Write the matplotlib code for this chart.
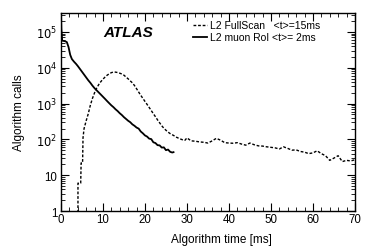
import numpy as np
import matplotlib
matplotlib.use("Agg")
import matplotlib.pyplot as plt
from matplotlib.ticker import MultipleLocator, LogLocator, FuncFormatter, NullFormatter

plt.rcParams['font.family'] = ['Liberation Sans', 'DejaVu Sans']

# L2 muon RoI: time [ms] and calls
muon_t = [0.0, 0.1, 0.3, 1.0, 1.4, 1.8, 2.2, 2.6, 3.1, 3.6, 4.0,
          4.5, 5.0, 5.5, 6.0, 6.5, 7.0, 7.5, 8.0, 8.5, 9.0,
          9.5, 10.0, 10.5, 11.0, 11.5, 12.0, 12.5, 13.0, 13.5, 14.0,
          14.5, 15.0, 15.5, 16.0, 16.5, 17.0, 17.5, 18.0, 18.5, 19.0,
          19.5, 20.0, 20.5, 21.0, 21.5, 22.0, 22.5, 23.0, 23.5, 24.0,
          24.5, 25.0, 25.5, 26.0, 26.5, 26.8]
muon_calls = [340000, 120000, 57000, 55000, 52000, 38000, 23000, 17500, 14800, 12800, 11200,
              9330, 7760, 6460, 5370, 4470, 3800, 3160, 2690, 2340, 2040,
              1780, 1550, 1350, 1170, 1020, 891, 794, 692, 617, 537,
              479, 417, 372, 331, 302, 263, 240, 214, 200, 166,
              148, 129, 120, 105, 102, 83, 79, 69, 68, 59,
              60, 50, 52, 45, 43, 44]

# L2 FullScan: time [ms] and calls
fs_t = [4.05, 4.05, 4.7, 4.8, 5.15, 5.25, 5.5, 6.0, 6.5, 7.0, 7.5, 8.0, 8.5, 9.0,
        9.5, 10.0, 10.5, 11.0, 11.5, 12.0, 12.5, 13.0, 13.5, 14.0,
        14.5, 15.0, 15.5, 16.0, 16.5, 17.0, 17.5, 18.0, 18.5, 19.0,
        19.5, 20.0, 20.5, 21.0, 21.5, 22.0, 22.5, 23.0, 23.5, 24.0,
        24.5, 25.0, 25.5, 26.0, 26.5, 27.0, 27.5, 28.0, 28.5, 29.0,
        29.5, 30.0, 31.0, 32.0, 33.0, 34.0, 35.0, 36.0, 37.0, 38.0,
        39.0, 40.0, 41.0, 42.0, 43.0, 44.0, 45.0, 46.0, 47.0, 48.0,
        49.0, 50.0, 51.0, 52.0, 53.0, 54.0, 55.0, 56.0, 57.0, 58.0,
        59.0, 60.0, 61.0, 62.0, 63.0, 64.0, 65.0, 66.0, 67.0, 68.0,
        69.0, 70.0]
fs_calls = [0.5, 6, 6, 22, 22, 110, 200, 330, 520, 900, 1400, 2000, 2700, 3400,
            4100, 4800, 5500, 6200, 6800, 7300, 7600, 7550, 7350, 7050,
            6700, 6200, 5500, 4900, 4300, 3800, 3200, 2600, 2100, 1700,
            1400, 1150, 950, 780, 640, 520, 430, 350, 290, 240,
            205, 180, 160, 145, 135, 125, 115, 108, 102, 97,
            94, 110, 91, 89, 85, 83, 79, 91, 107, 95,
            81, 79, 78, 81, 74, 69, 79, 71, 66, 65,
            62, 60, 58, 54, 62, 56, 50, 51, 46, 44,
            40, 42, 48, 40, 35, 26, 30, 35, 24, 26,
            25, 27]

fig = plt.figure(figsize=(3.74, 2.53), dpi=100)
ax = fig.add_axes([0.163, 0.162, 0.786, 0.783])

ax.plot(fs_t, fs_calls, color='black', lw=1.0, ls=(0, (2, 1.3)),
        label='L2 FullScan   <t>=15ms')
ax.plot(muon_t, muon_calls, color='black', lw=1.3,
        label='L2 muon RoI <t>= 2ms')

ax.set_yscale('log')
ax.set_xlim(0, 70)
ax.set_ylim(1, 3.4e5)

ax.xaxis.set_major_locator(MultipleLocator(10))
ax.xaxis.set_minor_locator(MultipleLocator(2))
ax.yaxis.set_major_locator(LogLocator(base=10, numticks=10))
ax.yaxis.set_minor_locator(LogLocator(base=10, subs=np.arange(2, 10), numticks=10))
ax.yaxis.set_minor_formatter(NullFormatter())


def yfmt(v, pos):
    e = int(round(np.log10(v)))
    if e == 0:
        return '1'
    if e == 1:
        return '10'
    return r'$10^{%d}$' % e


ax.yaxis.set_major_formatter(FuncFormatter(yfmt))
ax.tick_params(which='both', direction='in', top=True, right=True, labelsize=8.3)
ax.tick_params(axis='x', pad=1.5)
ax.tick_params(axis='y', pad=2.5)
ax.tick_params(which='major', length=6, width=0.8)
ax.tick_params(which='minor', length=3, width=0.6)
for s in ax.spines.values():
    s.set_linewidth(1.0)

ax.set_xlabel('Algorithm time [ms]', fontsize=8.5)
ax.xaxis.set_label_coords(0.545, -0.112)
ax.set_ylabel('Algorithm calls', fontsize=8.5, labelpad=8)

ax.text(0.143, 0.905, 'ATLAS', transform=ax.transAxes, fontsize=11,
        fontweight='bold', fontstyle='italic', va='center', ha='left')

ax.legend(loc='upper left', bbox_to_anchor=(0.425, 1.0), frameon=False,
          fontsize=7.5, handlelength=1.3, handletextpad=0.35,
          labelspacing=0.2, borderaxespad=0.3)

fig.savefig('out.png', dpi=100)
